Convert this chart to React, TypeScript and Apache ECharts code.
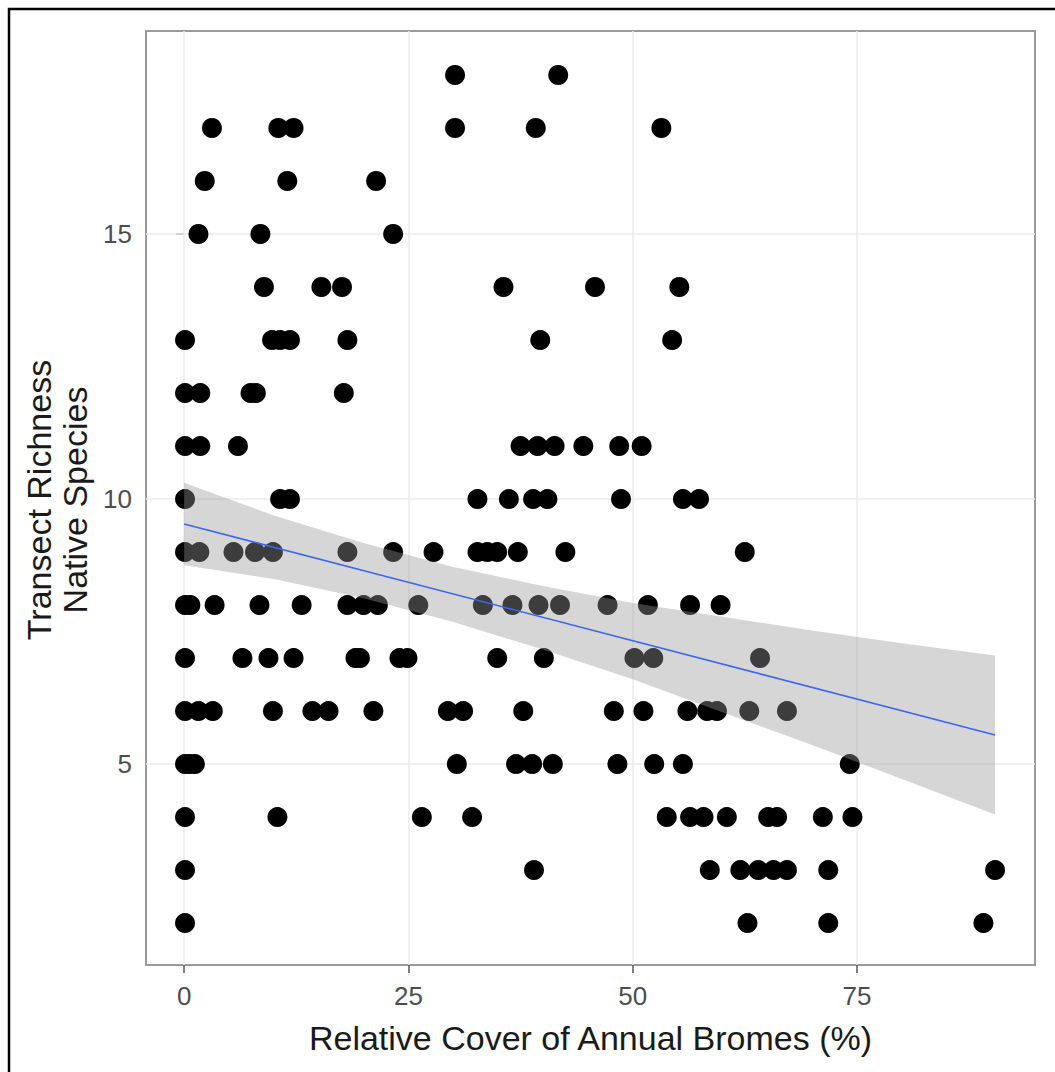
import React, { useEffect, useRef } from "react";
import * as echarts from "echarts";

// Native species transect richness levels (y) and the relative cover values (x) of points at each level
const richnessLevels = [18, 17, 16, 15, 14, 13, 12, 11, 10, 9, 8, 7, 6, 5, 4, 3, 2];
const coverAtLevel: number[][] = [
  [30.2, 41.7],
  [3.1, 10.5, 12.2, 30.2, 39.2, 53.2],
  [2.3, 11.5, 21.4],
  [1.6, 8.5, 23.3],
  [8.9, 15.3, 17.6, 35.6, 45.8, 55.2],
  [0.1, 9.8, 10.7, 11.8, 18.2, 39.7, 54.4],
  [0.1, 1.8, 7.4, 8.0, 17.8],
  [0.1, 1.8, 6.0, 37.5, 39.4, 41.3, 44.5, 48.5, 51.0],
  [0.1, 10.7, 11.8, 32.7, 36.2, 38.9, 40.5, 48.7, 55.6, 57.4],
  [0.1, 1.7, 5.5, 7.9, 9.9, 18.2, 23.3, 27.8, 32.7, 33.8, 34.9, 37.2, 42.5, 62.5],
  [0.1, 0.7, 3.4, 8.4, 13.1, 18.2, 20.0, 21.6, 26.1, 33.3, 36.6, 39.5, 41.9, 47.2, 51.7, 56.4, 59.8],
  [0.1, 6.5, 9.4, 12.2, 19.1, 19.6, 24.0, 24.9, 34.9, 40.1, 50.2, 52.3, 64.2],
  [0.1, 1.6, 3.2, 9.9, 14.3, 16.1, 21.1, 29.4, 31.1, 37.8, 47.9, 51.2, 56.1, 58.3, 59.4, 63.0, 67.2],
  [0.1, 0.6, 1.2, 30.4, 37.0, 38.8, 41.1, 48.3, 52.4, 55.6, 74.2],
  [0.1, 10.4, 26.5, 32.1, 53.8, 56.4, 57.9, 60.5, 65.1, 66.1, 71.2, 74.5],
  [0.1, 39.0, 58.6, 62.0, 64.0, 65.7, 67.2, 71.8, 90.4],
  [0.1, 62.8, 71.8, 89.1],
];

// Linear fit line endpoints
const fitX = [0, 90.4];
const fitY = [9.53, 5.55];

// Confidence band edges
const bandX = [0, 10, 20, 30, 40, 50, 60, 70, 80, 90.4];
const bandUpper = [10.31, 9.69, 9.17, 8.72, 8.36, 8.04, 7.78, 7.52, 7.28, 7.05];
const bandLower = [8.75, 8.49, 8.13, 7.68, 7.16, 6.6, 5.98, 5.36, 4.72, 4.05];

const xTicks = [0, 25, 50, 75];
const yTicks = [5, 10, 15];

const FONT = "'Liberation Sans', Arial, Helvetica, sans-serif";

export default function App() {
  const ref = useRef<HTMLDivElement>(null);

  useEffect(() => {
    if (!ref.current) return;
    const chart = echarts.init(ref.current, null, { renderer: "svg" });

    const points: number[][] = [];
    richnessLevels.forEach((r, i) => {
      coverAtLevel[i].forEach((c) => points.push([c, r]));
    });
    const fitData = fitX.map((x, i) => [x, fitY[i]]);

    const option: any = {
      animation: false,
      backgroundColor: "#ffffff",
      grid: {
        left: 146,
        right: 20,
        top: 31,
        bottom: 107,
        show: true,
        borderColor: "#9a9a9a",
        borderWidth: 2,
        backgroundColor: "#ffffff",
      },
      xAxis: {
        type: "value",
        min: -4.25,
        max: 94.85,
        axisLine: { show: false },
        splitLine: { show: false },
        axisTick: {
          show: true,
          customValues: xTicks,
          length: 8,
          lineStyle: { color: "#555555", width: 1.5 },
        },
        axisLabel: {
          customValues: xTicks,
          fontSize: 26,
          color: "#4d4d4d",
          margin: 18,
          fontFamily: FONT,
        },
        name: "Relative Cover of Annual Bromes (%)",
        nameLocation: "middle",
        nameGap: 56,
        nameTextStyle: { fontSize: 34, color: "#1a1a1a", fontFamily: FONT },
      },
      yAxis: {
        type: "value",
        min: 1.21,
        max: 18.83,
        axisLine: { show: false },
        splitLine: { show: false },
        axisTick: {
          show: true,
          customValues: yTicks,
          length: 8,
          lineStyle: { color: "#555555", width: 1.5 },
        },
        axisLabel: {
          customValues: yTicks,
          fontSize: 26,
          color: "#4d4d4d",
          margin: 14,
          fontFamily: FONT,
        },
      },
      graphic: [
        {
          type: "rect",
          silent: true,
          shape: { x: 9, y: 9, width: 1100, height: 1100 },
          style: { fill: "none", stroke: "#000000", lineWidth: 2.5 },
        },
        {
          type: "text",
          x: 57,
          y: 500,
          rotation: Math.PI / 2,
          silent: true,
          style: {
            text: "Transect Richness\nNative Species",
            fontSize: 34,
            lineHeight: 36,
            fontFamily: FONT,
            fill: "#1a1a1a",
            align: "center",
            verticalAlign: "middle",
          },
        },
      ],
      series: [
        {
          type: "line",
          data: [],
          silent: true,
          z: 1,
          markLine: {
            silent: true,
            z: 1,
            symbol: "none",
            label: { show: false },
            lineStyle: { color: "#ebebeb", width: 1.5, type: "solid" },
            data: [
              ...xTicks.map((v) => ({ xAxis: v })),
              ...yTicks.map((v) => ({ yAxis: v })),
            ],
          },
        },
        {
          type: "scatter",
          data: points,
          symbol: "circle",
          symbolSize: 20,
          itemStyle: { color: "#000000", opacity: 1 },
          z: 3,
          silent: true,
        },
        {
          type: "custom",
          z: 4,
          silent: true,
          clip: true,
          data: [[bandX[0], bandUpper[0]]],
          renderItem: (params: any, api: any) => {
            if (params.dataIndex !== 0) return null;
            const up = bandX.map((x, i) => api.coord([x, bandUpper[i]]));
            const lo = bandX.map((x, i) => api.coord([x, bandLower[i]])).reverse();
            return {
              type: "polygon",
              shape: { points: up.concat(lo) },
              style: { fill: "rgba(153,153,153,0.4)", stroke: "none" },
            };
          },
        },
        {
          type: "line",
          data: fitData,
          symbol: "none",
          z: 5,
          silent: true,
          lineStyle: { color: "#3d66f0", width: 1.6 },
        },
      ],
    };

    chart.setOption(option);
    return () => chart.dispose();
  }, []);

  return (
    <div
      ref={ref}
      style={{ position: "fixed", left: 0, top: 0, width: 1055, height: 1072 }}
    />
  );
}
